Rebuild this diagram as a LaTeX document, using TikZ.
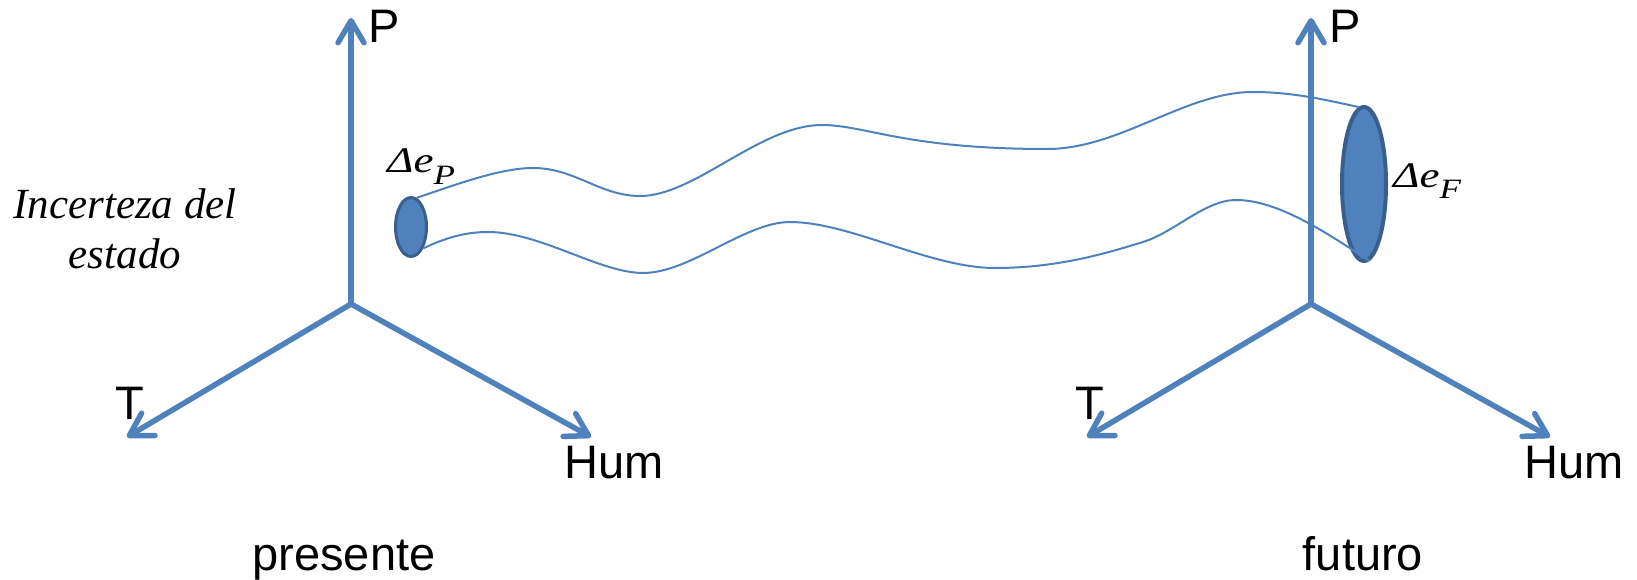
\documentclass[tikz,border=0pt]{standalone}
\usepackage{fontspec}
\setmainfont{Liberation Sans}
\newfontfamily\serifit{Liberation Serif}
\usepackage{graphicx}
\usetikzlibrary{arrows.meta,shapes.geometric}

\definecolor{axisblue}{HTML}{4F81BD}
\definecolor{rimblue}{HTML}{3A5F8D}

\tikzset{
  axis/.style={draw=axisblue, line width=5.5pt, line cap=round,
    -{Straight Barb[length=22pt,width=26pt,round]}},
  lbl/.style={font=\fontsize{47}{50}\selectfont, inner sep=0pt},
  note/.style={font=\serifit\itshape\fontsize{43}{50}\selectfont, inner sep=0pt, align=center},
  blob/.style={ellipse, draw=rimblue, fill=axisblue, inner sep=0pt},
  tube/.style={draw=axisblue, line width=2pt},
  dlbl/.style={inner sep=0pt, anchor=base west}
}
\newcommand{\deltalabel}[1]{\scalebox{1.25}[1]{\serifit\itshape\fontsize{36}{36}\selectfont
  Δe\raisebox{-12pt}{\fontsize{28}{28}\selectfont #1}}}

\begin{document}
\begin{tikzpicture}[x=1pt,y=-1pt]
\useasboundingbox (0,0) rectangle (1637,580);

% present-state axes
\coordinate (oL) at (351,304);
\coordinate (pL) at (351,18);
\coordinate (tL) at (127,437);
\coordinate (hL) at (591,437);
\draw[axis] (oL) -- (pL);
\draw[axis] (oL) -- (tL);
\draw[axis] (oL) -- (hL);
\node[lbl, anchor=base west] (PL) at (368,43) {P};
\node[lbl, anchor=base] (TL) at (130,419) {T};
\node[lbl, anchor=base west] (HL) at (564,478) {Hum};
\node[lbl, anchor=base] (pres) at (344,570) {presente};

% future-state axes
\coordinate (oR) at (1311,304);
\coordinate (pR) at (1311,18);
\coordinate (tR) at (1087,437);
\coordinate (hR) at (1550,437);
\draw[axis] (oR) -- (pR);
\draw[axis] (oR) -- (tR);
\draw[axis] (oR) -- (hR);
\node[lbl, anchor=base west] (PR) at (1329,43) {P};
\node[lbl, anchor=base] (TR) at (1090,419) {T};
\node[lbl, anchor=base west] (HR) at (1524,478) {Hum};
\node[lbl, anchor=base] (fut) at (1363,570) {futuro};

% side note (base anchor sits on the last line)
\node[note, anchor=base] (inc) at (125,268) {Incerteza del\\estado};

% uncertainty ellipses
\node[blob, line width=3pt, minimum width=31pt, minimum height=59pt] (eP) at (411,227) {};
\node[blob, line width=4pt, minimum width=44pt, minimum height=154pt] (eF) at (1364,184) {};

% state tube between them
\draw[tube] (eP.79)
  .. controls (455,185) and (500,168) .. (533,168)
  .. controls (575,168) and (600,196) .. (640,196)
  .. controls (695,196) and (760,125) .. (822,125)
  .. controls (865,125) and (905,149) .. (1047,149)
  .. controls (1120,149) and (1185,92) .. (1253,92)
  .. controls (1295,92) and (1330,101) .. (eF.94);
\draw[tube] (eP.-60)
  .. controls (445,238) and (465,232) .. (488,232)
  .. controls (540,232) and (600,273) .. (643,273)
  .. controls (690,273) and (745,222) .. (790,222)
  .. controls (850,222) and (930,268) .. (995,268)
  .. controls (1060,268) and (1110,252) .. (1143,242)
  .. controls (1175,232) and (1205,200) .. (1236,200)
  .. controls (1275,200) and (1320,228) .. (eF.-86);

\node[dlbl] (dP) at (387,173) {\deltalabel{P}};
\node[dlbl] (dF) at (1393,187) {\deltalabel{F}};
\end{tikzpicture}
\end{document}
